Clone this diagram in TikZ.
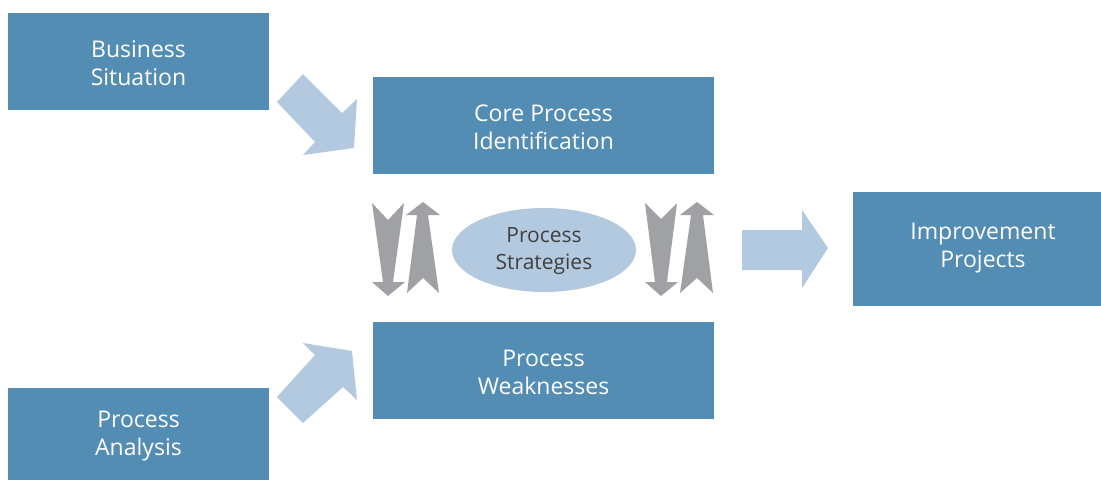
\documentclass[tikz,border=0pt]{standalone}
\usepackage{fontspec}
\setmainfont{Open Sans}
\usetikzlibrary{shapes.geometric}
\definecolor{boxblue}{HTML}{548DB3}
\definecolor{lightblue}{HTML}{B3C9DF}
\definecolor{arrgray}{HTML}{A0A1A5}
\definecolor{txtgray}{HTML}{404040}
\tikzset{
  box/.style={fill=boxblue, draw=none},
  boxtext/.style={text=white, align=center, font=\fontsize{23}{28}\selectfont},
  blockarrow/.style={fill=lightblue, draw=none},
  grayarrow/.style={fill=arrgray, draw=none},
}
\begin{document}
\begin{tikzpicture}[x=1pt,y=-1pt]
\useasboundingbox (0,0) rectangle (1101,480);
% boxes
\path[box] (8,13) rectangle (269,110);
\node[boxtext] (bs) at (138.5,63) {Business\\Situation};
\path[box] (373,77) rectangle (714,174);
\node[boxtext] (cpi) at (543.5,127) {Core Process\\Identification};
\path[box] (373,322) rectangle (714,419);
\node[boxtext] (pw) at (543.5,372) {Process\\Weaknesses};
\path[box] (8,388) rectangle (269,480);
\node[boxtext] (pa) at (138.5,436) {Process\\Analysis};
\path[box] (853,192) rectangle (1101,306);
\node[boxtext] (ip) at (983,248) {Improvement\\Projects};
% ellipse
\fill[lightblue] (544,250) ellipse [x radius=92, y radius=42];
\node[text=txtgray, align=center, font=\fontsize{21}{27}\selectfont] (ps) at (544,251) {Process\\Strategies};
% diagonal arrows
\path[blockarrow] (277,102) -- (303,74) -- (342,113) -- (357,99) -- (354,148) -- (303,155) -- (315,142) -- cycle;
\path[blockarrow] (277,397) -- (303,423) -- (343,387) -- (357,400) -- (352,351) -- (303,343) -- (315,355) -- cycle;
% right arrow
\path[blockarrow] (742,230) -- (802,230) -- (802,210) -- (828,248) -- (802,288) -- (802,270) -- (742,270) -- cycle;
% gray arrows left
\path[grayarrow] (372,203) -- (388,220) -- (404,203) -- (393,282) -- (405,282) -- (388,296) -- (372,282) -- (383,282) -- cycle;
\path[grayarrow] (423,202) -- (440,215) -- (428,215) -- (439,293) -- (423,278) -- (407,293) -- (417,215) -- (406,215) -- cycle;
% gray arrows right
\path[grayarrow] (645,203) -- (661,219) -- (677,203) -- (667,282) -- (678,282) -- (661,296) -- (645,282) -- (655,282) -- cycle;
\path[grayarrow] (697,202) -- (714,215) -- (703,215) -- (713,293) -- (697,278) -- (680,293) -- (691,215) -- (680,215) -- cycle;
\end{tikzpicture}
\end{document}
